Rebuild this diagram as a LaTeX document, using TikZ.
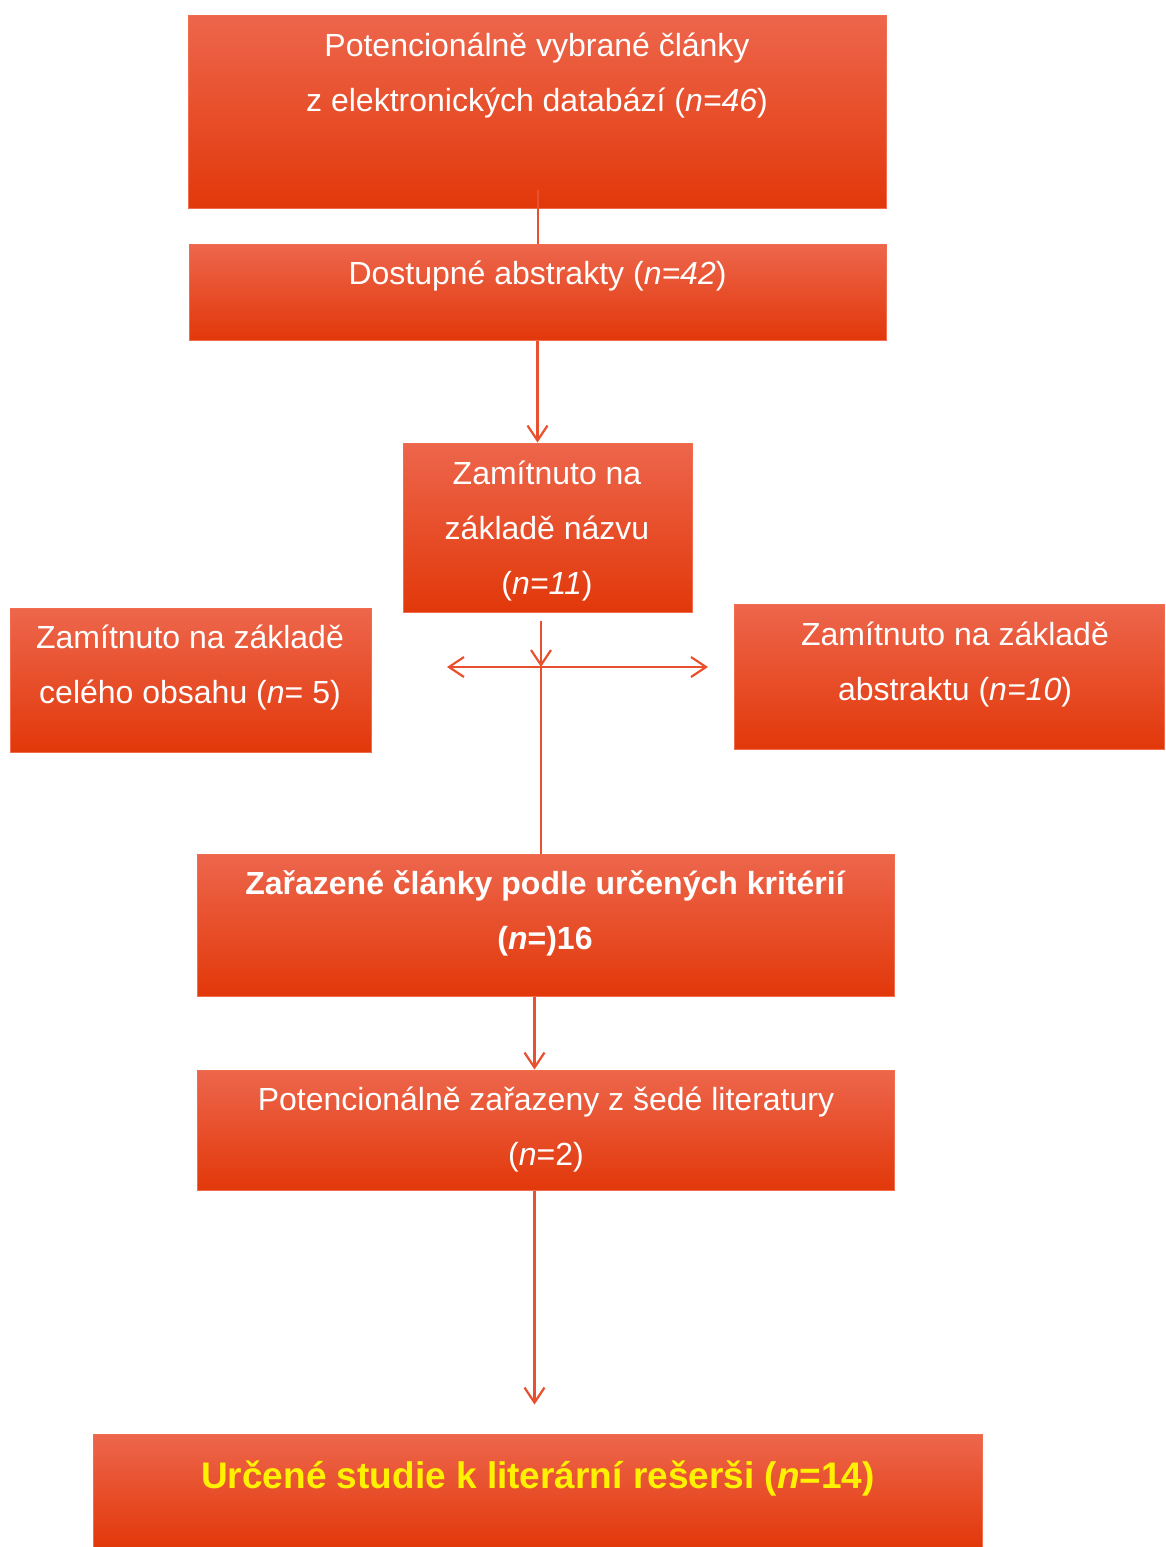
\documentclass[tikz,border=0pt]{standalone}
\usepackage{fontspec}
\setmainfont{Liberation Sans}
\usetikzlibrary{arrows.meta,calc}

\definecolor{boxtop}{RGB}{237,102,76}
\definecolor{boxmid}{RGB}{241,72,24}
\definecolor{boxbot}{RGB}{226,56,10}
\definecolor{boxline}{RGB}{242,108,78}
\definecolor{linkred}{RGB}{233,80,46}

\tikzset{
	flowbox/.style={draw=boxline, line width=1pt, top color=boxtop, middle color=boxmid, bottom color=boxbot, inner sep=0pt},
	boxtext/.style={text=white, align=center, inner sep=0pt, font=\fontsize{32}{55}\selectfont},
	link/.style={draw=linkred, line width=2.2pt},
	arrow/.style={link, -{Straight Barb[length=15pt,width=20pt,line width=2.2pt]}}
}

\begin{document}
\begin{tikzpicture}[x=1pt,y=-1pt]
	\useasboundingbox (0,0) rectangle (1165,1547);

	% boxes
	\node[flowbox, minimum width=698pt, minimum height=193pt] (b1) at (537,111.5) {};
	\node[flowbox, minimum width=697pt, minimum height=96pt] (b2) at (537.5,292) {};
	\node[flowbox, minimum width=289pt, minimum height=169pt] (b3) at (547.5,527.5) {};
	\node[flowbox, minimum width=361pt, minimum height=144pt] (b4) at (190.5,680) {};
	\node[flowbox, minimum width=430pt, minimum height=145pt] (b5) at (949,676.5) {};
	\node[flowbox, minimum width=697pt, minimum height=142pt] (b6) at (545.5,925) {};
	\node[flowbox, minimum width=697pt, minimum height=120pt] (b7) at (545.5,1130) {};
	\node[flowbox, minimum width=889pt, minimum height=114pt] (b8) at (537.5,1491) {};

	% texts
	\node[boxtext] (t1) at (537,75.5) {Potencionálně vybrané články\\z elektronických databází (\textit{n=46})};
	\node[boxtext] (t2) at (537.5,276) {Dostupné abstrakty (\textit{n=42})};
	\node[boxtext] (t3) at (547,531) {Zamítnuto na\\základě názvu\\(\textit{n=11})};
	\node[boxtext] (t4) at (190,667.5) {Zamítnuto na základě\\celého obsahu (\textit{n}= 5)};
	\node[boxtext] (t5) at (955,664.5) {Zamítnuto na základě\\abstraktu (\textit{n=10})};
	\node[boxtext, font=\bfseries\fontsize{32}{55}\selectfont] (t6) at (545,913.5) {Zařazené články podle určených kritérií\\(\textit{n}=)16};
	\node[boxtext] (t7) at (546,1129.5) {Potencionálně zařazeny z šedé literatury\\(\textit{n}=2)};
	\node[boxtext, text=yellow, font=\bfseries\fontsize{37}{44}\selectfont] (t8) at (538,1478.5) {Určené studie k literární rešerši (\textit{n}=14)};

	% connectors
	\coordinate (split) at (541,667);
	\coordinate (leftend) at (447,667);
	\coordinate (rightend) at (708,667);

	\draw[link] ([xshift=1pt,yshift=19pt]b1.south) -- ([xshift=1pt]b1.south |- b2.north);
	\draw[arrow] (b2.south) -- (b2.south |- b3.north);
	\draw[arrow] ([yshift=-8pt]b3.south -| split) -- (split);
	\draw[arrow] (split) -- (leftend);
	\draw[arrow] (split) -- (rightend);
	\draw[link] (split) -- (split |- b6.north);
	\draw[arrow] ([xshift=-11pt]b6.south) -- ([xshift=-11pt]b7.north);
	\draw[arrow] ([xshift=-11pt]b7.south) -- ($(b7.south |- b8.north)+(-11,-29)$);
\end{tikzpicture}
\end{document}
